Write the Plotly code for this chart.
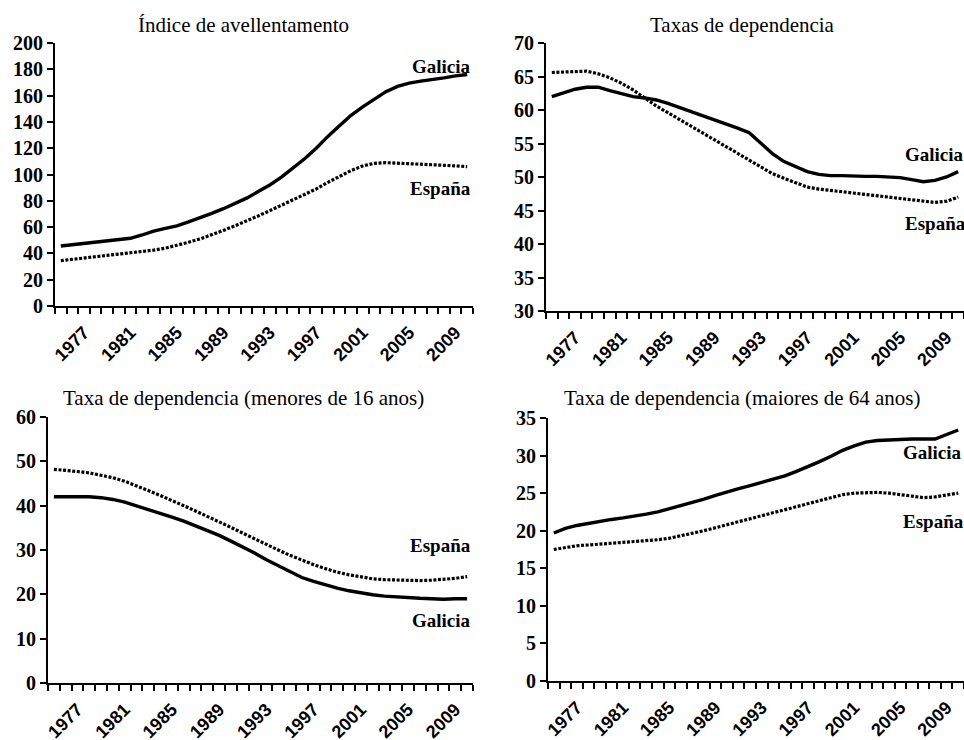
import plotly.graph_objects as go

years = list(range(1975, 2011))
tick_years = [1977, 1981, 1985, 1989, 1993, 1997, 2001, 2005, 2009]

# Índice de avellentamento
av_galicia = [45.6, 46.5, 47.5, 48.5, 49.5, 50.5, 51.5, 54, 57, 59, 61, 64, 67, 70.5, 74, 78, 82, 87,
              92, 98, 105, 112, 120, 129, 137, 145, 151.5, 157, 163, 167, 169.5, 171, 172, 173.5, 175, 176]
av_espana = [34.5, 35.5, 36.5, 37.5, 38.3, 39, 40, 41, 42.5, 44, 46, 48.5, 51, 54, 57.5, 61, 64.5, 68.5,
             72.5, 76.5, 80.5, 85, 89, 94, 98.5, 103, 106.5, 108.5, 109, 108.7, 108.3, 108, 107.5, 107, 106.5, 106]

# Taxas de dependencia
td_galicia = [62, 62.6, 63.1, 63.4, 63.4, 62.9, 62.4, 62, 61.8, 61.5, 61, 60.4, 59.8, 59.2, 58.6, 58, 57.3, 56.6,
              55, 53.5, 52.3, 51.5, 50.8, 50.4, 50.2, 50.2, 50.1, 50.1, 50.1, 50, 49.9, 49.6, 49.3, 49.5, 50, 50.8]
td_espana = [65.6, 65.7, 65.8, 65.8, 65.4, 64.8, 64, 63, 61.8, 60.6, 59.6, 58.6, 57.6, 56.6, 55.6, 54.6, 53.6, 52.6,
             51.5, 50.5, 49.8, 49.1, 48.5, 48.2, 48, 47.8, 47.6, 47.3, 47.1, 46.9, 46.7, 46.5, 46.3, 46.2, 46.4, 47]

# Taxa de dependencia (menores de 16 anos)
me_galicia = [42, 42, 42, 42, 41.8, 41.4, 40.8, 40, 39.2, 38.3, 37.4, 36.5, 35.5, 34.5, 33.3, 32, 30.7, 29.3,
              27.8, 26.4, 25, 23.8, 22.9, 22.1, 21.4, 20.8, 20.3, 19.9, 19.6, 19.4, 19.2, 19.1, 19, 18.9, 19, 19]
me_espana = [48.2, 48, 47.7, 47.4, 46.9, 46.3, 45.5, 44.5, 43.4, 42.3, 41.2, 40, 38.8, 37.6, 36.4, 35.1, 33.8, 32.5,
             31.2, 30, 28.8, 27.7, 26.7, 25.8, 25, 24.4, 23.9, 23.5, 23.3, 23.2, 23.1, 23.1, 23.2, 23.4, 23.6, 24]

# Taxa de dependencia (maiores de 64 anos)
ma_galicia = [19.7, 20.3, 20.7, 21, 21.3, 21.5, 21.7, 21.9, 22.2, 22.5, 22.9, 23.3, 23.7, 24.2, 24.7, 25.2, 25.6, 26,
              26.4, 26.8, 27.3, 27.9, 28.5, 29.2, 29.9, 30.7, 31.3, 31.8, 32, 32.1, 32.2, 32.2, 32.2, 32.2, 32.8, 33.4]
ma_espana = [17.5, 17.8, 18, 18.1, 18.2, 18.3, 18.4, 18.5, 18.6, 18.8, 19, 19.3, 19.6, 20, 20.4, 20.8, 21.2, 21.6,
             22, 22.4, 22.8, 23.2, 23.6, 24, 24.4, 24.8, 25, 25.1, 25.1, 25, 24.8, 24.6, 24.4, 24.5, 24.7, 25]

titles = ["Índice de avellentamento", "Taxas de dependencia",
          "Taxa de dependencia (menores de 16 anos)", "Taxa de dependencia (maiores de 64 anos)"]

W, H = 964, 740
SERIF = "Liberation Serif, Times New Roman, serif"
SANS = "Liberation Sans, Arial, sans-serif"

# pixel geometry of panels: (x0, x1, ytop, ybottom)
panels = [
    (55, 473, 43, 306, [0, 200], 20),
    (546, 964, 43, 311, [30, 70], 5),
    (48, 473, 417, 683, [0, 60], 10),
    (548, 964, 418, 681, [0, 35], 5),
]
series = [(av_galicia, av_espana), (td_galicia, td_espana), (me_galicia, me_espana), (ma_galicia, ma_espana)]

fig = go.Figure()
layout = {}
for i, ((x0, x1, yt, yb, yr, dt), (g, e)) in enumerate(zip(panels, series)):
    n = "" if i == 0 else str(i + 1)
    xa, ya = "x" + n, "y" + n
    fig.add_trace(go.Scatter(x=years, y=e, mode="lines", xaxis=xa, yaxis=ya, showlegend=False,
                             line=dict(color="black", width=3.2, dash="3px,1.6px")))
    fig.add_trace(go.Scatter(x=years, y=g, mode="lines", xaxis=xa, yaxis=ya, showlegend=False,
                             line=dict(color="black", width=3.4)))
    layout["xaxis" + n] = dict(
        domain=[x0 / W, x1 / W], anchor=ya, range=[1974.5, 2010.5], automargin=False,
        tickmode="array", tickvals=tick_years, ticktext=[str(t) for t in tick_years],
        tickangle=-45, ticks="", showgrid=False, zeroline=False, ticklabelstandoff=7,
        showline=True, linecolor="black", linewidth=2,
        tickfont=dict(family=SANS, size=18, color="black", weight="bold"),
        minor=dict(tickmode="linear", tick0=1974.5, dtick=1, ticks="outside",
                   ticklen=6, tickwidth=1.5, tickcolor="black", showgrid=False),
        fixedrange=True,
    )
    layout["yaxis" + n] = dict(
        domain=[1 - yb / H, 1 - yt / H], anchor=xa, range=yr, dtick=dt, tick0=yr[0], automargin=False,
        ticks="outside", ticklen=6, tickwidth=1.5, tickcolor="black",
        showgrid=False, zeroline=False, showline=True, linecolor="black", linewidth=2,
        tickfont=dict(family=SERIF, size=20, color="black", weight="bold"),
        fixedrange=True,
    )

ann = []
title_pos = [(243, 25), (742, 25), (243, 398), (742, 398)]
for t, (cx, cy) in zip(titles, title_pos):
    ann.append(dict(text=t, xref="paper", yref="paper", x=cx / W, y=1 - cy / H,
                    xanchor="center", yanchor="middle", showarrow=False,
                    font=dict(family=SERIF, size=21, color="black")))

lab_font = dict(family=SERIF, size=19, color="black", weight="bold")
labels = [
    ("Galicia", "x", "y", 2010.5, 182.5, "right"),
    ("España", "x", "y", 2010.5, 89, "right"),
    ("Galicia", "x2", "y2", 2005.6, 53.4, "left"),
    ("España", "x2", "y2", 2005.6, 43.1, "left"),
    ("España", "x3", "y3", 2010.5, 31, "right"),
    ("Galicia", "x3", "y3", 2010.5, 14.2, "right"),
    ("Galicia", "x4", "y4", 2005.4, 30.4, "left"),
    ("España", "x4", "y4", 2005.4, 21.2, "left"),
]
for txt, xr, yr_, x, y, xa in labels:
    ann.append(dict(text=txt, xref=xr, yref=yr_, x=x, y=y, xanchor=xa, yanchor="middle",
                    showarrow=False, font=lab_font, xshift=-4 if xa == "left" else 0))

fig.update_layout(
    template="none",
    width=W, height=H, margin=dict(l=0, r=0, t=0, b=0, autoexpand=False),
    paper_bgcolor="white", plot_bgcolor="white",
    annotations=ann, **layout,
)
fig.write_html("out.html", config={"displayModeBar": False},
               post_script="document.body.style.margin='0';document.body.style.overflow='hidden';")
